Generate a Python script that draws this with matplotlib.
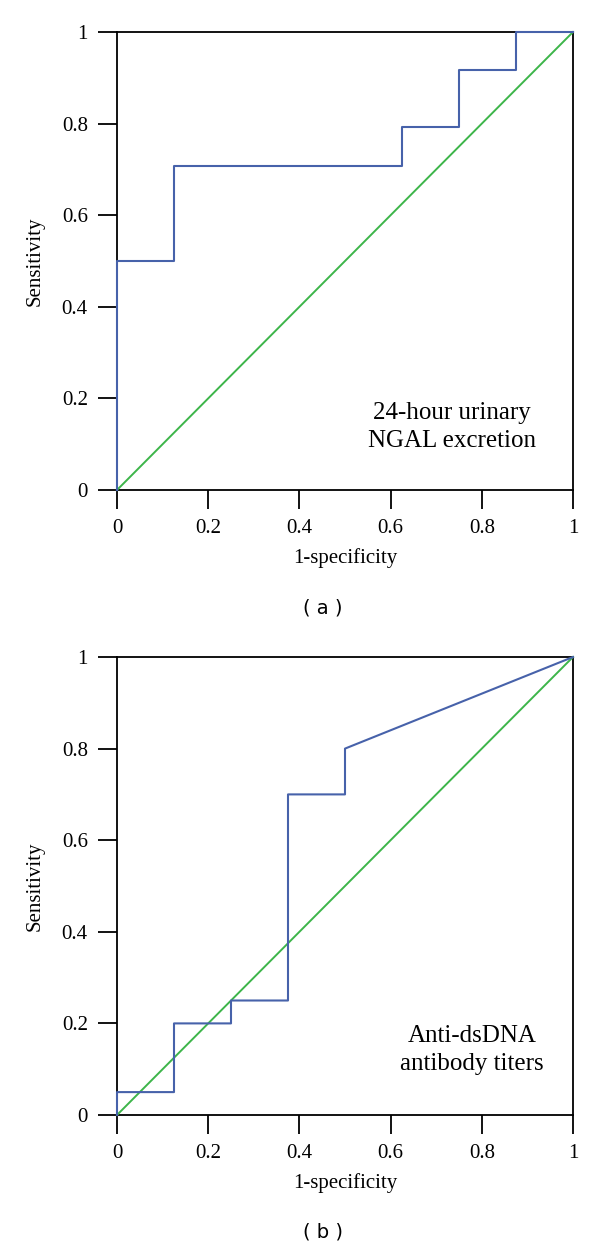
import matplotlib
matplotlib.use("Agg")
import matplotlib.pyplot as plt

# Panel (a): 24-hour urinary NGAL excretion
fpr_a = [0, 0, 0.125, 0.125, 0.625, 0.625, 0.75, 0.75, 0.875, 0.875, 1.0]
tpr_a = [0, 0.5, 0.5, 0.708, 0.708, 0.792, 0.792, 0.917, 0.917, 1.0, 1.0]
# Panel (b): Anti-dsDNA antibody titers
fpr_b = [0, 0, 0.125, 0.125, 0.25, 0.25, 0.375, 0.375, 0.5, 0.5, 1.0]
tpr_b = [0, 0.05, 0.05, 0.2, 0.2, 0.25, 0.25, 0.7, 0.7, 0.8, 1.0]
ref_line = [0, 1]
ticks = [0, 0.2, 0.4, 0.6, 0.8, 1.0]
tick_labels = ["0", "0.2", "0.4", "0.6", "0.8", "1"]

serif = ["Liberation Serif", "DejaVu Serif"]
blue = "#4762AA"
green = "#3DB54A"

fig = plt.figure(figsize=(6, 12.5), dpi=100)

panels = [
    (0.608, fpr_a, tpr_a, "24-hour urinary\nNGAL excretion", 0.735, 0.1376, "( a )", 608),
    (0.108, fpr_b, tpr_b, "Anti-dsDNA\nantibody titers", 0.778, 0.142, "( b )", 1232),
]

for bottom, fx, ty, label, tx, tyy, cap, cap_y in panels:
    ax = fig.add_axes([0.195, bottom, 0.76, 0.3664])
    ax.plot(ref_line, ref_line, color=green, lw=1.4, zorder=3, clip_on=False)
    ax.plot(fx, ty, color=blue, lw=1.5, zorder=3.5, clip_on=False)
    ax.set_xlim(0, 1)
    ax.set_ylim(0, 1)
    ax.set_xticks(ticks)
    ax.set_yticks(ticks)
    ax.set_xticklabels(tick_labels, fontfamily=serif, fontsize=15)
    ax.set_yticklabels(tick_labels, fontfamily=serif, fontsize=15)
    ax.tick_params(direction="out", length=14, width=1.3, pad=7)
    for s in ax.spines.values():
        s.set_linewidth(1.3)
        s.set_zorder(2.5)
    ax.set_xlabel("1-specificity", fontfamily=serif, fontsize=15, labelpad=7)
    ax.set_ylabel("Sensitivity", fontfamily=serif, fontsize=15, labelpad=12)
    ax.text(tx, tyy, label, transform=ax.transAxes, ha="center", va="center",
            fontfamily=serif, fontsize=18, linespacing=1.35)
    fig.text(0.538, 1 - cap_y / 1250, cap,
             ha="center", va="center", fontfamily="DejaVu Sans", fontsize=14)

fig.savefig("out.png", dpi=100)
